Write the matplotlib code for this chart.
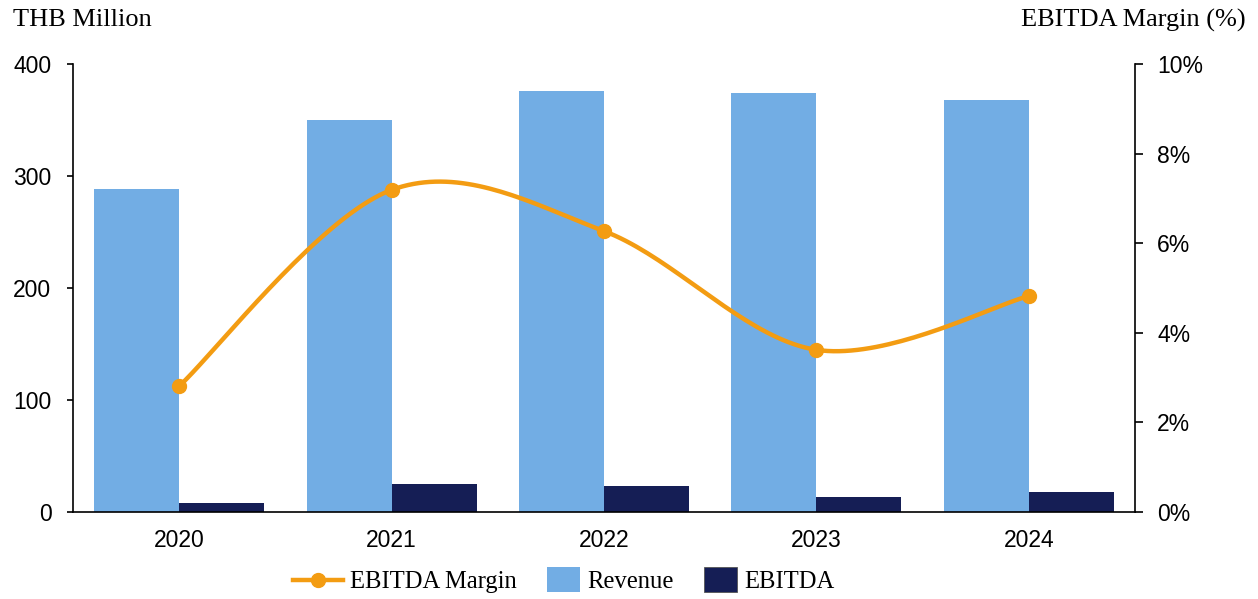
import numpy as np
import matplotlib.pyplot as plt
from matplotlib.lines import Line2D
from matplotlib.patches import Patch, Rectangle
from matplotlib.legend_handler import HandlerPatch

years = ['2020', '2021', '2022', '2023', '2024']
revenue = [288, 350, 376, 374, 368]
ebitda = [8, 25, 23.2, 13.4, 17.9]
margin = [2.81, 7.19, 6.27, 3.62, 4.82]

c_rev = '#72ADE4'
c_ebitda = '#151E55'
c_margin = '#F39C12'
serif = 'Liberation Serif'
sans = 'Liberation Sans'

fig = plt.figure(figsize=(12.58, 5.99), dpi=100)
ax = fig.add_axes([73/1258, 87/599, 1062/1258, 448/599])
ax2 = ax.twinx()

x = np.arange(len(years))
w = 0.4
ax.bar(x - w/2, revenue, w, color=c_rev, zorder=2)
ax.bar(x + w/2, ebitda, w, color=c_ebitda, zorder=2)

# smooth line (Catmull-Rom style, like Excel's smoothed line)
xs, ys = [], []
px = x.astype(float)
py = np.array(margin, dtype=float)
n = len(px)
for i in range(n - 1):
    p0 = (px[max(i-1, 0)], py[max(i-1, 0)])
    p1 = (px[i], py[i])
    p2 = (px[i+1], py[i+1])
    p3 = (px[min(i+2, n-1)], py[min(i+2, n-1)])
    c1 = (p1[0] + (p2[0]-p0[0])/6, p1[1] + (p2[1]-p0[1])/6)
    c2 = (p2[0] - (p3[0]-p1[0])/6, p2[1] - (p3[1]-p1[1])/6)
    t = np.linspace(0, 1, 40)
    bx = (1-t)**3*p1[0] + 3*(1-t)**2*t*c1[0] + 3*(1-t)*t**2*c2[0] + t**3*p2[0]
    by = (1-t)**3*p1[1] + 3*(1-t)**2*t*c1[1] + 3*(1-t)*t**2*c2[1] + t**3*p2[1]
    xs.extend(bx)
    ys.extend(by)
ax2.plot(xs, ys, color=c_margin, lw=3.2, zorder=3, solid_capstyle='round')
ax2.plot(px, py, 'o', color=c_margin, ms=10, zorder=4)

ax.set_xlim(-0.5, 4.5)
ax.set_ylim(0, 400)
ax2.set_ylim(0, 10)
ax.set_yticks([0, 100, 200, 300, 400])
ax2.set_yticks(range(0, 11, 2))
ax2.set_yticklabels([f'{v}%' for v in range(0, 11, 2)])
ax.set_xticks(x)
ax.set_xticklabels(years)

for a in (ax, ax2):
    a.spines['top'].set_visible(False)
    a.set_facecolor('none')
ax.spines['right'].set_visible(False)
ax2.spines['bottom'].set_visible(False)
ax2.spines['left'].set_visible(False)
for s in ('left', 'bottom'):
    ax.spines[s].set_linewidth(1.2)
ax2.spines['right'].set_linewidth(1.2)

ax.tick_params(axis='y', length=4.5, width=1.2, pad=11, labelsize=16.5)
ax2.tick_params(axis='y', length=6, width=1.2, pad=10, labelsize=16.5)
ax.tick_params(axis='x', length=0, pad=12, labelsize=16.5)
for lab in ax.get_xticklabels() + ax.get_yticklabels() + ax2.get_yticklabels():
    lab.set_fontfamily(sans)

fig.text(13/1258, 1 - 20/599, 'THB Million', family=serif, fontsize=19,
         ha='left', va='center')
fig.text(1246/1258, 1 - 20/599, 'EBITDA Margin (%)', family=serif, fontsize=19,
         ha='right', va='center')


def square(legend, orig_handle, xdescent, ydescent, width, height, fontsize):
    sw, sh = 24, 18.5
    return Rectangle((width - sw - xdescent, -ydescent + (height - sh) / 2), sw, sh)


handles = [
    Line2D([0], [0], color=c_margin, lw=3.2, marker='o', ms=10),
    Patch(facecolor=c_rev),
    Patch(facecolor=c_ebitda, edgecolor='#555555', lw=0.6),
]
fig.legend(handles, ['EBITDA Margin', 'Revenue', 'EBITDA'], loc='center',
           bbox_to_anchor=(564/1258, 1 - 582/599), ncol=3, frameon=False,
           prop={'family': serif, 'size': 17.7}, handlelength=2.0,
           handletextpad=0.28, columnspacing=0.6,
           handler_map={Patch: HandlerPatch(patch_func=square)})

fig.savefig('out.png', dpi=100)
